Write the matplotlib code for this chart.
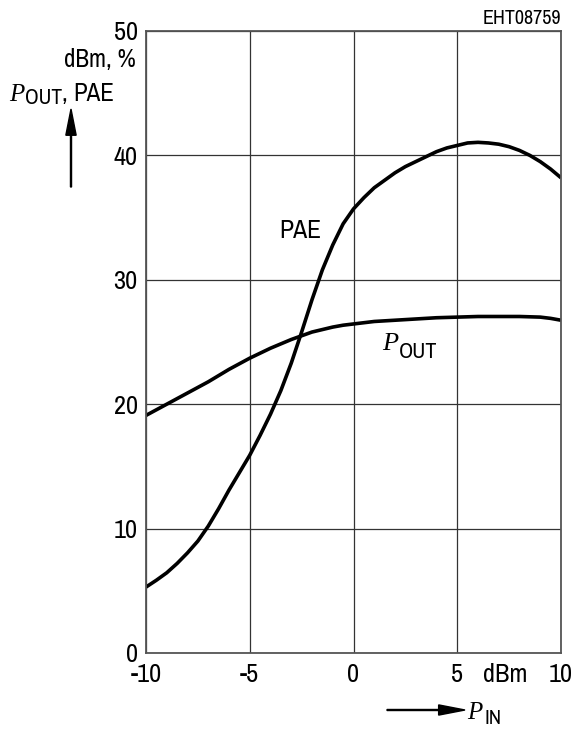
import matplotlib
matplotlib.use("Agg")
import matplotlib.pyplot as plt
from matplotlib import font_manager as fm
from matplotlib.patches import FancyArrow

# ---- data ----
pout_x = [-10, -9, -8, -7, -6, -5, -4, -3, -2, -1.5, -1, -0.5, 0, 1, 2, 3, 4, 5, 6, 7, 8, 9, 9.5, 10]
pout_y = [19.1, 20.0, 20.9, 21.8, 22.8, 23.7, 24.5, 25.2, 25.8, 26.0, 26.2, 26.35, 26.45, 26.65,
          26.75, 26.85, 26.95, 27.0, 27.05, 27.05, 27.05, 27.0, 26.9, 26.75]
pae_x = [-10, -9.5, -9, -8.5, -8, -7.5, -7, -6.5, -6, -5.5, -5, -4.5, -4, -3.5, -3, -2.5, -2,
         -1.5, -1, -0.5, 0, 0.5, 1, 1.5, 2, 2.5, 3, 3.5, 4, 4.5, 5, 5.5, 6, 6.5, 7, 7.5, 8,
         8.5, 9, 9.5, 10]
pae_y = [5.3, 5.85, 6.45, 7.2, 8.05, 9.0, 10.2, 11.6, 13.1, 14.5, 15.9, 17.5, 19.2, 21.1,
         23.3, 25.8, 28.4, 30.8, 32.8, 34.5, 35.7, 36.6, 37.4, 38.0, 38.6, 39.1, 39.5, 39.9,
         40.3, 40.6, 40.8, 41.0, 41.05, 41.0, 40.9, 40.7, 40.4, 40.0, 39.5, 38.9, 38.2]
xticks = [-10, -5, 0, 5, 10]
xtick_labels = ["-10", "-5", "0", "5", "10"]
yticks = [0, 10, 20, 30, 40, 50]
ytick_labels = ["0", "10", "20", "30", "40", "50"]

names = {f.name for f in fm.fontManager.ttflist}
SANS = "Liberation Sans"
for cand in ["Nimbus Sans Narrow", "Liberation Sans Narrow", "Arial Narrow",
             "Archivo Narrow", "PT Sans Narrow", "Roboto Condensed"]:
    if cand in names:
        SANS = cand
        break
SERIF = "Liberation Serif"
for cand in ["Nimbus Roman", "Liberation Serif"]:
    if cand in names:
        SERIF = cand
        break
plt.rcParams["font.family"] = [SANS, "DejaVu Sans"]

W, H = 573, 729
fig = plt.figure(figsize=(W / 100, H / 100), dpi=100)
L, R, T, B = 146, 561, 31, 653
ax = fig.add_axes([L / W, 1 - B / H, (R - L) / W, (B - T) / H])

ax.plot(pout_x, pout_y, color="black", lw=2.6, solid_capstyle="butt", solid_joinstyle="round")
ax.plot(pae_x, pae_y, color="black", lw=2.6, solid_capstyle="butt", solid_joinstyle="round")

ax.set_xlim(-10, 10)
ax.set_ylim(0, 50)
ax.set_xticks(xticks)
ax.set_xticklabels(xtick_labels)
ax.set_yticks(yticks)
ax.set_yticklabels(ytick_labels)
ax.tick_params(length=0, labelsize=19, pad=6)
ax.tick_params(axis="x", pad=7)
ax.grid(True, color="#333333", lw=0.9)
for s in ax.spines.values():
    s.set_color("#555555")
    s.set_linewidth(1.3)


def px(x, y):
    return x / W, 1 - y / H


fig.text(*px(505, 674), "dBm", fontsize=19, ha="center", va="center")
fig.text(*px(561, 24), "EHT08759", fontsize=14.5, ha="right", va="baseline")

# y-axis label
fig.text(*px(136, 67), "dBm, %", fontsize=18, ha="right", va="baseline")
fig.text(*px(9, 101), "P", fontsize=18, family=SERIF, style="italic", ha="left", va="baseline")
fig.text(*px(25, 104), "OUT", fontsize=15.5, ha="left", va="baseline")
fig.text(*px(61, 101), ",", fontsize=18, ha="left", va="baseline")
fig.text(*px(73, 101), "PAE", fontsize=18, ha="left", va="baseline")
fig.patches.append(FancyArrow(
    71 / W, 1 - 187 / H, 0, (187 - 109) / H, width=0.0018, head_width=0.018,
    head_length=0.036, length_includes_head=True, color="black",
    transform=fig.transFigure, figure=fig))

# x-axis label
fig.patches.append(FancyArrow(
    387 / W, 1 - 710 / H, (465 - 387) / W, 0, width=0.0014, head_width=0.014,
    head_length=0.046, length_includes_head=True, color="black",
    transform=fig.transFigure, figure=fig))
fig.text(*px(467, 719), "P", fontsize=18, family=SERIF, style="italic", ha="left", va="baseline")
fig.text(*px(485, 724), "IN", fontsize=15, ha="left", va="baseline")

# curve labels
ax.text(-2.55, 33.36, "PAE", fontsize=18.5, ha="center", va="baseline")
ax.text(1.37, 24.36, "P", fontsize=19, family=SERIF, style="italic", ha="left", va="baseline")
ax.text(2.2, 23.7, "OUT", fontsize=16, ha="left", va="baseline")

fig.savefig("out.png", dpi=100)
